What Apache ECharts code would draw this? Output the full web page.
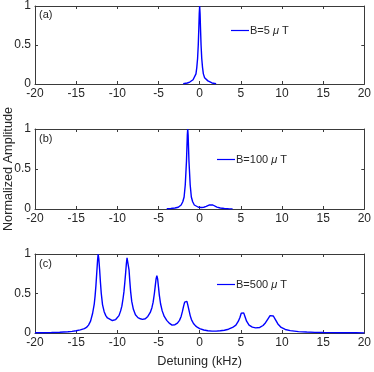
<!DOCTYPE html>
<html>
<head>
<meta charset="utf-8">
<script src="https://cdn.jsdelivr.net/npm/echarts@6/dist/echarts.min.js"></script>
<style>html,body{margin:0;padding:0;background:#fff;}#c{width:374px;height:372px;}</style>
</head>
<body>
<div id="c"></div>
<script>
// ---- data ----
const xTicks = [-20, -15, -10, -5, 0, 5, 10, 15, 20];
const yTicks = [0, 0.5, 1];
const panelLabels = ['(a)', '(b)', '(c)'];
const seriesNames = ['B=5 μ T', 'B=100 μ T', 'B=500 μ T'];

const detA = [-2, -1.5, -1.2, -1.0, -0.8, -0.6, -0.45, -0.35, -0.25, -0.17, -0.1, -0.05, 0, 0.05, 0.1, 0.17, 0.25, 0.35, 0.45, 0.6, 0.8, 1.0, 1.2, 1.5, 2];
const ampA = [0.004, 0.013, 0.025, 0.04, 0.055, 0.08, 0.13, 0.21, 0.33, 0.5, 0.72, 0.9, 1, 0.9, 0.72, 0.5, 0.33, 0.21, 0.13, 0.08, 0.055, 0.04, 0.025, 0.013, 0.004];

const detB = [-4, -3.5, -3, -2.6, -2.25, -2.05, -1.89, -1.75, -1.65, -1.6, -1.55, -1.5, -1.45, -1.4, -1.35, -1.3, -1.25, -1.15, -1.01, -0.85, -0.65, -0.45, -0.15, 0.2, 0.5, 0.8, 1.0, 1.2, 1.4, 1.6, 1.8, 2.1, 2.5, 3.0, 3.5, 4.0];
const ampB = [0.003, 0.006, 0.012, 0.022, 0.05, 0.09, 0.15, 0.3, 0.5, 0.6, 0.76, 0.92, 1, 0.92, 0.76, 0.6, 0.5, 0.3, 0.15, 0.09, 0.05, 0.035, 0.022, 0.018, 0.022, 0.032, 0.042, 0.052, 0.056, 0.05, 0.038, 0.024, 0.013, 0.007, 0.004, 0.002];

const detC = [-20, -19, -18, -17, -16, -15.5, -15, -14.5, -14, -13.75, -13.5, -13.25, -13.0, -12.8, -12.7, -12.6, -12.5, -12.4, -12.33, -12.25, -12.15, -12.05, -11.95, -11.8, -11.6, -11.4, -11.2, -11.0, -10.6, -10.2, -10.0, -9.8, -9.6, -9.45, -9.3, -9.2, -9.1, -9.0, -8.9, -8.82, -8.76, -8.68, -8.58, -8.48, -8.38, -8.25, -8.05, -7.8, -7.5, -7.2, -6.95, -6.6, -6.3, -6.0, -5.8, -5.65, -5.5, -5.4, -5.3, -5.2, -5.1, -5.0, -4.9, -4.75, -4.55, -4.3, -4.0, -3.7, -3.35, -3.0, -2.7, -2.45, -2.25, -2.1, -1.95, -1.82, -1.72, -1.65, -1.55, -1.45, -1.3, -1.15, -1.0, -0.75, -0.5, -0.25, 0, 0.5, 1.0, 1.5, 2.0, 2.5, 3.0, 3.5, 4.0, 4.4, 4.7, 4.9, 5.05, 5.2, 5.35, 5.5, 5.7, 6.0, 6.4, 6.8, 7.0, 7.3, 7.7, 8.0, 8.3, 8.55, 8.75, 8.95, 9.2, 9.5, 9.9, 10.4, 11, 12, 13, 14, 15, 16, 17, 18, 19, 20];
const ampC = [0.003, 0.004, 0.006, 0.009, 0.016, 0.021, 0.029, 0.04, 0.055, 0.07, 0.1, 0.15, 0.25, 0.37, 0.47, 0.6, 0.76, 0.92, 1.0, 0.94, 0.8, 0.64, 0.5, 0.36, 0.27, 0.22, 0.19, 0.175, 0.158, 0.17, 0.19, 0.22, 0.28, 0.34, 0.44, 0.52, 0.63, 0.75, 0.88, 0.95, 0.97, 0.93, 0.8, 0.65, 0.52, 0.4, 0.3, 0.23, 0.195, 0.18, 0.172, 0.18, 0.21, 0.26, 0.32, 0.39, 0.5, 0.59, 0.68, 0.725, 0.68, 0.58, 0.48, 0.37, 0.28, 0.21, 0.16, 0.125, 0.1, 0.105, 0.125, 0.16, 0.21, 0.27, 0.34, 0.39, 0.41, 0.412, 0.4, 0.36, 0.29, 0.22, 0.17, 0.12, 0.09, 0.07, 0.055, 0.038, 0.028, 0.024, 0.024, 0.028, 0.035, 0.048, 0.07, 0.1, 0.15, 0.2, 0.25, 0.275, 0.255, 0.21, 0.15, 0.1, 0.075, 0.065, 0.065, 0.07, 0.095, 0.13, 0.18, 0.22, 0.23, 0.215, 0.17, 0.115, 0.07, 0.045, 0.03, 0.018, 0.012, 0.008, 0.006, 0.005, 0.004, 0.003, 0.003, 0.002];

const panelsX = [detA, detB, detC];
const panelsY = [ampA, ampB, ampC];

// ---- layout ----
const FONT = 'Liberation Sans, Arial, Helvetica, sans-serif';
const TXT = '#262626';
const AX = '#3a3a3a';
const BLUE = '#0000ff';
const gridTops = [5, 129, 254];
const gridHeights = [79, 80, 79];
const legendTops = [25, 154, 279];
const legendLefts = [231, 217, 217];

const grids = [], xAxes = [], yAxes = [], series = [], legends = [], graphics = [];
for (let i = 0; i < 3; i++) {
  grids.push({left: 35, right: 7, top: gridTops[i], height: gridHeights[i], containLabel: false});
  const common = {
    gridIndex: i, type: 'value', min: xTicks[0], max: xTicks[xTicks.length - 1], interval: 5,
    axisLine: {show: true, onZero: false, lineStyle: {color: AX, width: 1}},
    axisTick: {show: true, inside: true, length: 3, lineStyle: {color: AX}},
    splitLine: {show: false}
  };
  xAxes.push(Object.assign({}, common, {
    position: 'bottom',
    axisLabel: {show: true, color: TXT, fontSize: 12, fontFamily: FONT, margin: 4},
    name: i === 2 ? 'Detuning (kHz)' : '', nameLocation: 'middle', nameGap: 22,
    nameTextStyle: {color: TXT, fontSize: 12.7, fontFamily: FONT}
  }));
  xAxes.push(Object.assign({}, common, {position: 'top', axisLabel: {show: false}}));
  const ycommon = {
    gridIndex: i, type: 'value', min: 0, max: 1, interval: 0.5,
    axisLine: {show: true, onZero: false, lineStyle: {color: AX, width: 1}},
    axisTick: {show: true, inside: true, length: 3, lineStyle: {color: AX}},
    splitLine: {show: false}
  };
  yAxes.push(Object.assign({}, ycommon, {
    position: 'left',
    axisLabel: {show: true, color: TXT, fontSize: 12, fontFamily: FONT, margin: 4,
      formatter: v => String(v)}
  }));
  yAxes.push(Object.assign({}, ycommon, {position: 'right', axisLabel: {show: false}}));

  const data = panelsX[i].map((x, k) => [x, panelsY[i][k]]);
  series.push({
    name: seriesNames[i], type: 'line', xAxisIndex: i * 2, yAxisIndex: i * 2,
    data: data, showSymbol: false, symbol: 'none', smooth: false, color: BLUE,
    lineStyle: {color: BLUE, width: 1.4}, itemStyle: {color: BLUE},
    animation: false, clip: true
  });
  legends.push({
    data: [seriesNames[i]],
    left: legendLefts[i], top: legendTops[i], padding: 0,
    icon: 'rect', itemWidth: 18, itemHeight: 1.2, itemGap: 0,
    itemStyle: {color: BLUE, borderWidth: 0},
    textStyle: {color: TXT, fontSize: 11, fontFamily: FONT, padding: [0, 0, 0, -4],
      rich: {i: {fontStyle: 'italic', fontSize: 11, fontFamily: FONT, color: TXT}}},
    formatter: n => n.replace('μ', '{i|μ}'),
    selectedMode: false
  });
  graphics.push({
    type: 'text', left: 39, top: gridTops[i] + 4,
    style: {text: panelLabels[i], fill: TXT, font: '11px ' + FONT}
  });
}
graphics.push({
  type: 'text', x: 8, y: 169, rotation: Math.PI / 2,
  style: {text: 'Normalized Amplitude', fill: TXT, font: '12.7px ' + FONT, align: 'center', verticalAlign: 'middle'}
});

const chart = echarts.init(document.getElementById('c'), null, {renderer: 'canvas'});
chart.setOption({
  animation: false,
  backgroundColor: '#ffffff',
  grid: grids, xAxis: xAxes, yAxis: yAxes, series: series, legend: legends, graphic: graphics
});
</script>
</body>
</html>
